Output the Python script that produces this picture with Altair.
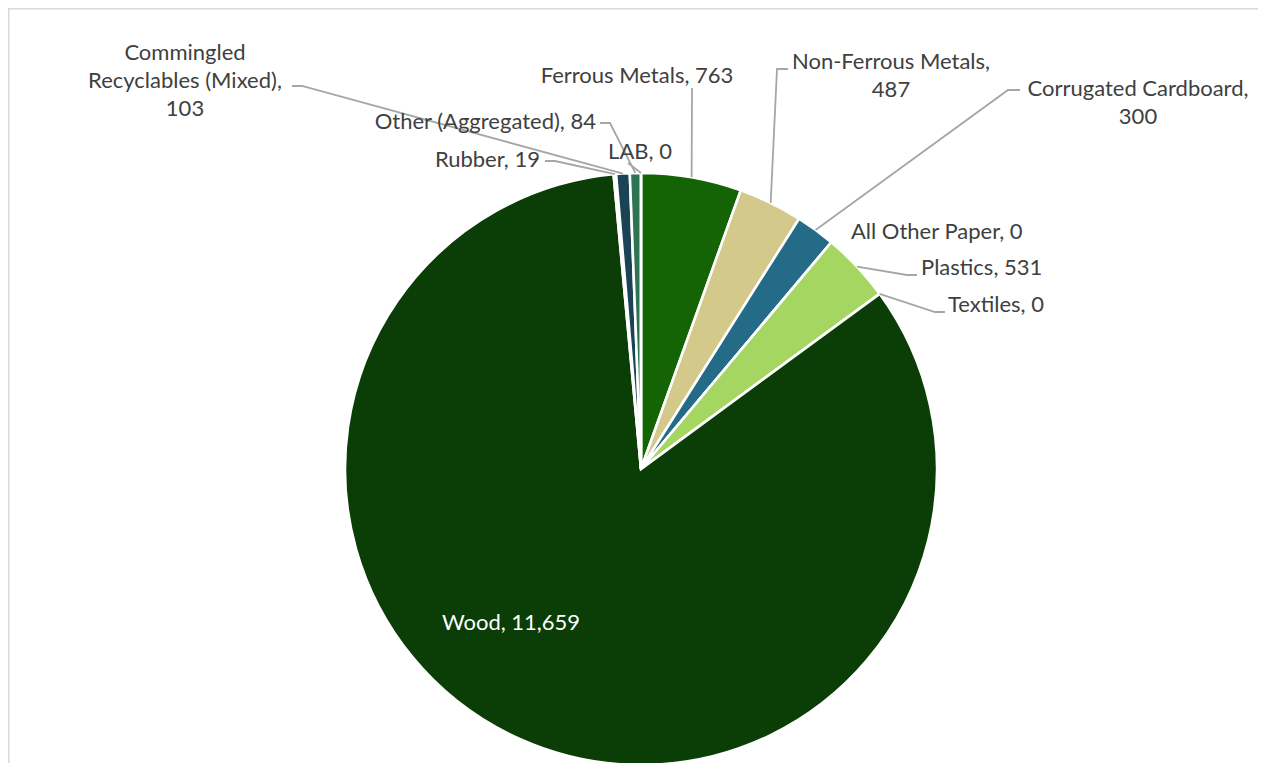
import math
import altair as alt
import pandas as pd

# ---- data -------------------------------------------------------------
categories = [
    "Ferrous Metals", "Non-Ferrous Metals", "Corrugated Cardboard",
    "All Other Paper", "Plastics", "Textiles", "Wood", "Rubber",
    "Commingled Recyclables (Mixed)", "Other (Aggregated)", "LAB",
]
values = [763, 487, 300, 0, 531, 0, 11659, 19, 103, 84, 0]
colors = [
    "#146304", "#D3C98A", "#236B87", "#7F9FB0", "#A5D662", "#5E8F3A",
    "#0B3D06", "#3D6B2E", "#1A4356", "#2E7352", "#4F7F5F",
]

# ---- layout (pixel-like units, origin at pie centre, y up) -------------
W, H = 1250, 755
CX, CY = 633, 461          # pie centre inside the plot area
R = 296
FONT = "Lato"
FS = 22
LH = 28
TXT = "#404040"
LINE = "#A6A6A6"

# label placement: anchor of first text line, alignment, leader polyline (w/o slice end)
place = {
    "Ferrous Metals": dict(pos=(-4, 393), align="center", text="Ferrous Metals, {v}",
                           lead=[(51, 381)]),
    "Non-Ferrous Metals": dict(pos=(250, 407), align="center", text="Non-Ferrous Metals,\n{v}",
                               lead=[(147, 400), (136, 400)]),
    "Corrugated Cardboard": dict(pos=(497, 380), align="center", text="Corrugated Cardboard,\n{v}",
                                 lead=[(379, 379), (367, 379)]),
    "All Other Paper": dict(pos=(210, 237), align="left", text="All Other Paper, {v}", lead=None),
    "Plastics": dict(pos=(280, 201), align="left", text="Plastics, {v}",
                     lead=[(276, 194), (266, 194)]),
    "Textiles": dict(pos=(307, 164), align="left", text="Textiles, {v}",
                     lead=[(304, 157), (294, 157)]),
    "Wood": dict(pos=(-130, -154), align="center", text="Wood, {v}", lead=None, color="#FFFFFF"),
    "Rubber": dict(pos=(-101, 309), align="right", text="Rubber, {v}",
                   lead=[(-96, 308), (-86, 308)]),
    "Commingled Recyclables (Mixed)": dict(pos=(-456, 416), align="center",
                                           text="Commingled\nRecyclables (Mixed),\n{v}",
                                           lead=[(-349, 383), (-339, 383)]),
    "Other (Aggregated)": dict(pos=(-45, 347), align="right", text="Other (Aggregated), {v}",
                               lead=[(-41, 346), (-31, 346)]),
    "LAB": dict(pos=(-1, 317), align="center", text="LAB, {v}", lead=[(-13, 306)]),
}

total = float(sum(values))
rows, cum = [], 0.0
for i, (c, v) in enumerate(zip(categories, values)):
    rows.append(dict(cat=c, value=v, order=i, start=cum, end=cum + v, cx=0, cy=0))
    cum += v
df = pd.DataFrame(rows)

lead_rows, text_rows = [], []
for r in rows:
    p = place[r["cat"]]
    mid = (r["start"] + r["value"] / 2) / total * 2 * math.pi
    ex, ey = R * math.sin(mid), R * math.cos(mid)
    if p["lead"]:
        pts = list(p["lead"]) + [(ex, ey)]
        for k, (x, y) in enumerate(pts):
            lead_rows.append(dict(cat=r["cat"], k=k, x=x, y=y))
    text_rows.append(dict(cat=r["cat"], x=p["pos"][0], y=p["pos"][1], align=p["align"],
                          label=p["text"].format(v=f"{r['value']:,}"),
                          color=p.get("color", TXT)))
lead_df = pd.DataFrame(lead_rows)
text_df = pd.DataFrame(text_rows)

xs = alt.Scale(domain=[-CX, W - CX], nice=False, zero=False)
ys = alt.Scale(domain=[-(H - CY), CY], nice=False, zero=False)
ts = alt.Scale(domain=[0, total], range=[0, 2 * math.pi], nice=False, zero=False)

pie = alt.Chart(df).mark_arc(radius=R, stroke="#FFFFFF", strokeWidth=2.6).encode(
    x=alt.X("cx:Q", scale=xs, axis=None),
    y=alt.Y("cy:Q", scale=ys, axis=None),
    theta=alt.Theta("start:Q", scale=ts),
    theta2="end:Q",
    color=alt.Color("cat:N", scale=alt.Scale(domain=categories, range=colors), legend=None),
)

leaders = alt.Chart(lead_df).mark_line(color=LINE, strokeWidth=1.8).encode(
    x=alt.X("x:Q", scale=xs, axis=None),
    y=alt.Y("y:Q", scale=ys, axis=None),
    detail="cat:N",
    order="k:Q",
)

text_layers = []
for al in ["left", "center", "right"]:
    sub = text_df[text_df["align"] == al]
    text_layers.append(
        alt.Chart(sub).mark_text(align=al, baseline="middle", font=FONT, fontSize=FS,
                                 lineBreak="\n", lineHeight=LH).encode(
            x=alt.X("x:Q", scale=xs, axis=None),
            y=alt.Y("y:Q", scale=ys, axis=None),
            text="label:N",
            color=alt.Color("color:N", scale=None),
        )
    )

one = pd.DataFrame({"a": [0]})
frame_left = alt.Chart(one).mark_rule(color="#D9D9D9", strokeWidth=1.5).encode(
    x=alt.value(0.75), y=alt.value(0), y2=alt.value(H + 20))
frame_top = alt.Chart(one).mark_rule(color="#D9D9D9", strokeWidth=1.5).encode(
    x=alt.value(0), x2=alt.value(W), y=alt.value(0.75))

chart = alt.layer(pie, leaders, *text_layers, frame_left, frame_top).properties(
    width=W, height=H, padding=0, autosize=alt.AutoSizeParams(type="none"),
).configure_view(strokeWidth=0, stroke="transparent")

chart.save("out.html", embed_options={"renderer": "svg", "actions": False})
